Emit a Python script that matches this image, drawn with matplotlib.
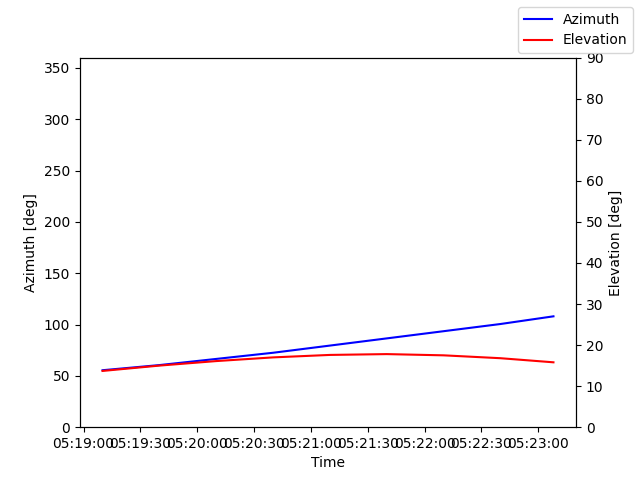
import matplotlib
matplotlib.use('Agg')
import matplotlib.pyplot as plt
import matplotlib.dates as mdates
import pandas as pd

times = pd.to_datetime(['2024-01-01 05:19:10', '2024-01-01 05:19:40', '2024-01-01 05:20:10',
                        '2024-01-01 05:20:40', '2024-01-01 05:21:10', '2024-01-01 05:21:40',
                        '2024-01-01 05:22:10', '2024-01-01 05:22:40', '2024-01-01 05:23:08'])
azimuth = [55.5, 60.5, 66.5, 72.5, 79.5, 86.5, 93.5, 100.5, 108.0]
elevation = [13.7, 15.0, 16.1, 17.0, 17.6, 17.8, 17.5, 16.8, 15.8]

fig, ax = plt.subplots(figsize=(6.4, 4.8), dpi=100)
ax.plot(times, azimuth, 'b-', label='Azimuth')
ax.set_ylim(0, 360)
ax.set_ylabel('Azimuth [deg]')
ax.set_xlabel('Time')
ax2 = ax.twinx()
ax2.plot(times, elevation, 'r-', label='Elevation')
ax2.set_ylim(0, 90)
ax2.set_ylabel('Elevation [deg]')
ax.xaxis.set_major_locator(mdates.SecondLocator(bysecond=[0, 30]))
ax.xaxis.set_major_formatter(mdates.DateFormatter('%H:%M:%S'))
fig.legend(loc='upper right')
fig.savefig('out.png')
